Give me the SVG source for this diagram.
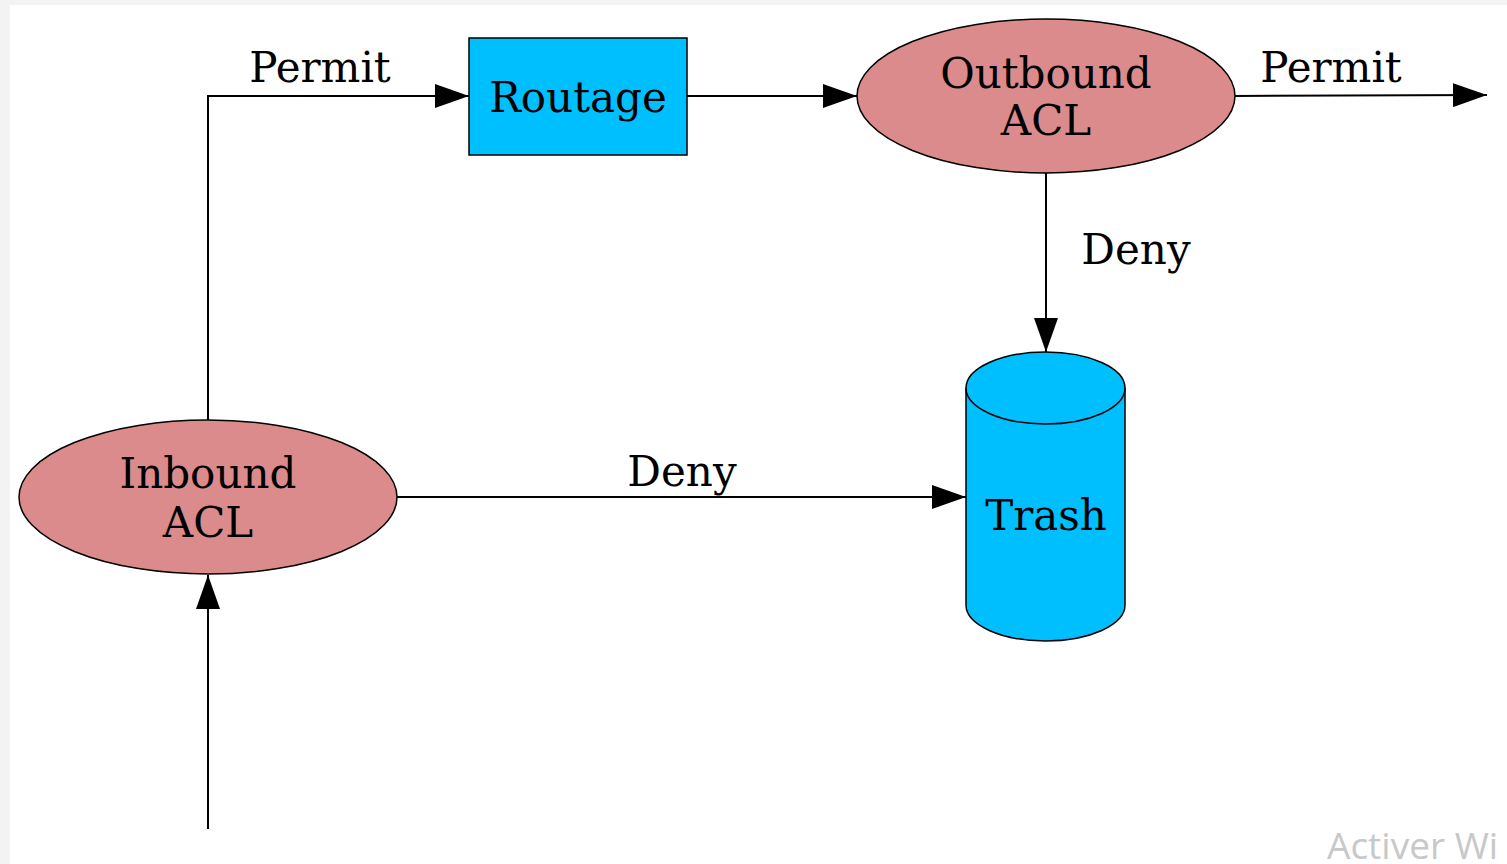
<svg xmlns="http://www.w3.org/2000/svg" width="1507" height="864" viewBox="0 0 1507 864">
<style>
.lbl{font-family:"DejaVu Serif",serif;font-size:42px;fill:#000;text-anchor:middle}
.edge{stroke:#000;stroke-width:2;fill:none}
.acl{fill:#db8b8b;stroke:#000;stroke-width:1.5}
.blue{fill:#00bfff;stroke:#000;stroke-width:1.5}
</style>
<defs>
<marker id="arr" markerWidth="34" markerHeight="24" refX="34" refY="12" orient="auto" markerUnits="userSpaceOnUse">
<path d="M0,0 L34,12 L0,24 Z" fill="#000"/>
</marker>
</defs>
<rect x="0" y="0" width="1507" height="864" fill="#f3f3f3"/>
<rect x="10" y="5" width="1497" height="859" fill="#fff"/>
<g id="connectors">
<path class="edge" d="M208,420 L208,96 L469,96" marker-end="url(#arr)"/>
<text class="lbl" x="320" y="82">Permit</text>
<path class="edge" d="M687,96 L857,96" marker-end="url(#arr)"/>
<path class="edge" d="M1235,96 L1487,95" marker-end="url(#arr)"/>
<text class="lbl" x="1331" y="82">Permit</text>
<path class="edge" d="M1046,173 L1046,352" marker-end="url(#arr)"/>
<text class="lbl" x="1136" y="264">Deny</text>
<path class="edge" d="M397,497 L966,497" marker-end="url(#arr)"/>
<text class="lbl" x="682" y="486">Deny</text>
<path class="edge" d="M208,829 L208,575" marker-end="url(#arr)"/>
</g>
<g id="routage">
<rect class="blue" x="469" y="38" width="218" height="117"/>
<text class="lbl" x="578" y="112">Routage</text>
</g>
<g id="outbound">
<ellipse class="acl" cx="1046" cy="96" rx="189" ry="77"/>
<text class="lbl" x="1046" y="88">Outbound</text>
<text class="lbl" x="1046" y="135">ACL</text>
</g>
<g id="inbound">
<ellipse class="acl" cx="208" cy="497" rx="189" ry="77"/>
<text class="lbl" x="208" y="488">Inbound</text>
<text class="lbl" x="208" y="537">ACL</text>
</g>
<g id="trash">
<path class="blue" d="M966,388 L966,605 A79.5,36 0 0 0 1125,605 L1125,388"/>
<ellipse class="blue" cx="1045.5" cy="388" rx="79.5" ry="36"/>
<text class="lbl" x="1046" y="530">Trash</text>
</g>
<text x="1327" y="859" font-family="'Open Sans','Noto Sans',sans-serif" font-size="37" fill="#c8c8c8">Activer Wi</text>
</svg>
